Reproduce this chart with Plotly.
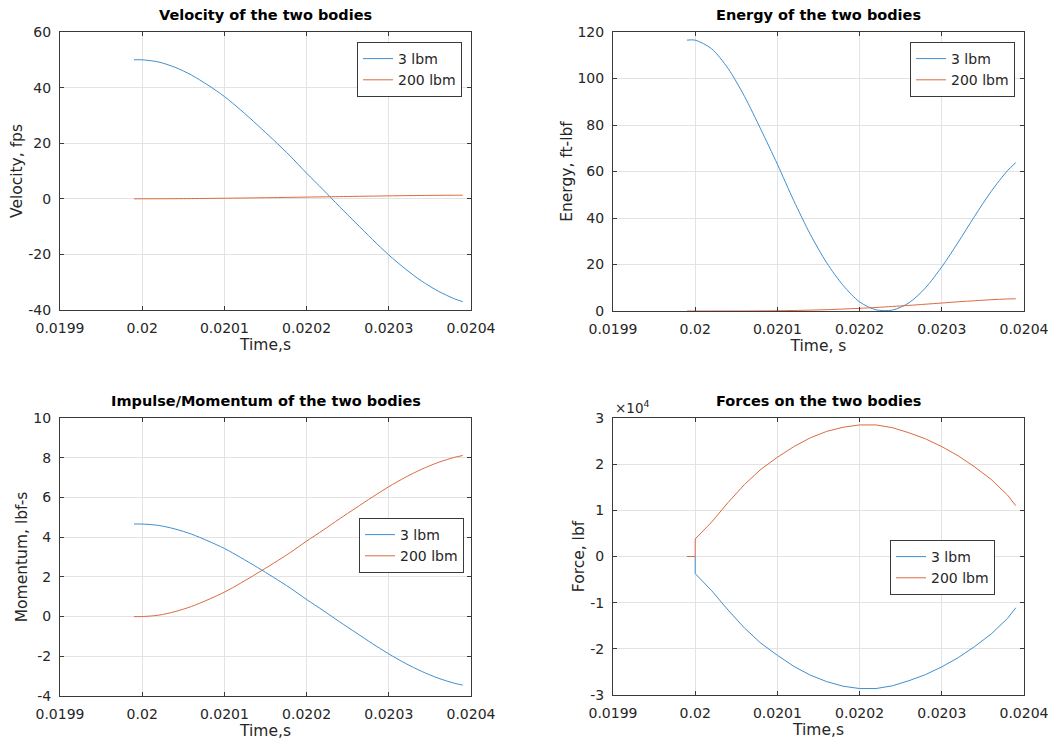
import plotly.graph_objects as go

# ---------------- data ----------------
time = [0.01999, 0.02000, 0.02002, 0.02004, 0.02006, 0.02008, 0.02010, 0.02012,
        0.02014, 0.02016, 0.02018, 0.02020, 0.02022, 0.02024, 0.02026, 0.02028,
        0.02030, 0.02032, 0.02034, 0.02036, 0.02038, 0.02039]

vel_3 = [50.0, 50.0, 49.2, 47.3, 44.5, 40.9, 36.8, 31.9, 26.6, 21.1, 15.4, 9.2,
         3.3, -2.8, -8.7, -14.6, -20.2, -25.2, -29.6, -33.2, -36.0, -37.0]
vel_200 = [0.0, 0.0, 0.01, 0.04, 0.08, 0.14, 0.20, 0.27, 0.35, 0.43, 0.52, 0.61,
           0.70, 0.79, 0.88, 0.97, 1.05, 1.13, 1.19, 1.25, 1.29, 1.30]

energy_3 = [116.5, 116.5, 112.8, 104.3, 92.3, 78.0, 63.1, 47.4, 33.0, 20.7, 11.0, 3.9,
            0.5, 0.4, 3.5, 9.9, 19.0, 29.6, 40.8, 51.4, 60.4, 63.8]
energy_200 = [0.0, 0.0, 0.0, 0.01, 0.02, 0.06, 0.12, 0.23, 0.38, 0.57, 0.84, 1.16,
              1.52, 1.94, 2.41, 2.92, 3.43, 3.97, 4.40, 4.86, 5.17, 5.25]

mom_3 = [4.66, 4.66, 4.59, 4.41, 4.15, 3.81, 3.43, 2.97, 2.48, 1.97, 1.44, 0.86,
         0.31, -0.26, -0.81, -1.36, -1.88, -2.35, -2.76, -3.10, -3.36, -3.45]
mom_200 = [0.0, 0.0, 0.07, 0.25, 0.51, 0.85, 1.23, 1.69, 2.18, 2.69, 3.22, 3.80,
           4.35, 4.92, 5.47, 6.02, 6.54, 7.01, 7.42, 7.76, 8.02, 8.11]

time_force = [0.01999, 0.02000, 0.02000, 0.02002, 0.02004, 0.02006, 0.02008, 0.02010,
              0.02012, 0.02014, 0.02016, 0.02018, 0.02020, 0.02022, 0.02024, 0.02026,
              0.02028, 0.02030, 0.02032, 0.02034, 0.02036, 0.02038, 0.02039]
force_200 = [0, 0, 3800, 7460, 11700, 15600, 18900, 21500, 23800, 25700, 27100, 28000,
             28500, 28500, 27900, 26800, 25500, 23800, 21800, 19400, 16700, 13300, 11000]
force_3 = [0, 0, -3700, -7400, -11600, -15500, -18800, -21400, -23800, -25700, -27100,
           -28100, -28600, -28600, -28000, -26900, -25600, -23900, -21900, -19500,
           -16800, -13400, -11100]

series_names = ["3 lbm", "200 lbm"]
x_ticks = [0.0199, 0.0200, 0.0201, 0.0202, 0.0203, 0.0204]
x_tick_text = ["0.0199", "0.02", "0.0201", "0.0202", "0.0203", "0.0204"]

titles = ["Velocity of the two bodies", "Energy of the two bodies",
          "Impulse/Momentum of the two bodies", "Forces on the two bodies"]
x_titles = ["Time,s", "Time, s", "Time,s", "Time,s"]
y_titles = ["Velocity, fps", "Energy, ft-lbf", "Momentum, lbf-s", "Force, lbf"]

y_ranges = [[-40, 60], [0, 120], [-4, 10], [-30000, 30000]]
vel_ticks = [-40, -20, 0, 20, 40, 60]
vel_tick_text = ["-40", "-20", "0", "20", "40", "60"]
energy_ticks = [0, 20, 40, 60, 80, 100, 120]
energy_tick_text = ["0", "20", "40", "60", "80", "100", "120"]
mom_ticks = [-4, -2, 0, 2, 4, 6, 8, 10]
mom_tick_text = ["-4", "-2", "0", "2", "4", "6", "8", "10"]
force_ticks = [-30000, -20000, -10000, 0, 10000, 20000, 30000]
force_tick_text = ["-3", "-2", "-1", "0", "1", "2", "3"]
y_tick_sets = [(vel_ticks, vel_tick_text), (energy_ticks, energy_tick_text),
               (mom_ticks, mom_tick_text), (force_ticks, force_tick_text)]

# ---------------- styling ----------------
OFF = 8                      # page body margin of the browser
W, H = 1060 - OFF, 744 - OFF
BLUE = "#3f8fcf"
ORANGE = "#dc6a42"
FONT = "DejaVu Sans, Liberation Sans, Arial, sans-serif"
TXT = "#262626"
AXC = "#3a3a3a"
GRID = "#e3e3e3"


def px(xp):
    return (xp - OFF) / W


def py(yp):
    return 1 - (yp - OFF) / H


# plot-area boxes in screen pixels: (left, right, top, bottom)
boxes = [(60, 471, 32, 310), (613, 1024, 32, 311),
         (60, 471, 418, 696), (613, 1024, 418, 695)]
legend_pos = [(462, 42), (1015, 42), (464, 518), (995, 540)]

fig = go.Figure()

data = [
    (time, vel_3, time, vel_200),
    (time, energy_3, time, energy_200),
    (time, mom_3, time, mom_200),
    (time_force, force_3, time_force, force_200),
]

layout = dict(
    width=W, height=H,
    margin=dict(l=0, r=0, t=0, b=0, autoexpand=False),
    paper_bgcolor="white", plot_bgcolor="white",
    font=dict(family=FONT, size=14, color=TXT),
    showlegend=True,
)
annotations = []

for i, (tx1, y1, tx2, y2) in enumerate(data):
    k = i + 1
    xa = "x" if k == 1 else f"x{k}"
    ya = "y" if k == 1 else f"y{k}"
    lg = "legend" if k == 1 else f"legend{k}"
    if k == 4:
        ln = dict(width=1, shape="linear")
    else:
        ln = dict(width=1, shape="spline", smoothing=0.8)
    fig.add_trace(go.Scatter(x=tx1, y=y1, mode="lines", name=series_names[0],
                             line=dict(ln, color=BLUE),
                             xaxis=xa, yaxis=ya, legend=lg))
    fig.add_trace(go.Scatter(x=tx2, y=y2, mode="lines", name=series_names[1],
                             line=dict(ln, color=ORANGE),
                             xaxis=xa, yaxis=ya, legend=lg))
    l, r, t, b = boxes[i]
    xdom = [px(l), px(r)]
    ydom = [py(b), py(t)]
    common = dict(showline=True, linecolor=AXC, linewidth=1, mirror="ticks",
                  ticks="inside", ticklen=4, tickcolor=AXC, showgrid=True,
                  gridcolor=GRID, gridwidth=1, zeroline=False, automargin=False,
                  tickfont=dict(family=FONT, size=14, color=TXT))
    xaxis = dict(common, domain=xdom, range=[0.0199, 0.0204], tickvals=x_ticks,
                 ticktext=x_tick_text, anchor=ya,
                 title=dict(text=x_titles[i], font=dict(size=15.5, color=TXT), standoff=4),
                 ticklabelstandoff=5)
    tv, tt = y_tick_sets[i]
    yaxis = dict(common, domain=ydom, range=y_ranges[i], tickvals=tv, ticktext=tt,
                 anchor=xa,
                 title=dict(text=y_titles[i], font=dict(size=15.5, color=TXT), standoff=1),
                 ticklabelstandoff=5)
    layout["xaxis" if k == 1 else f"xaxis{k}"] = xaxis
    layout["yaxis" if k == 1 else f"yaxis{k}"] = yaxis

    lx, ly = legend_pos[i]
    layout[lg] = dict(x=px(lx), y=py(ly), xanchor="right", yanchor="top",
                      bgcolor="white", bordercolor=AXC, borderwidth=1,
                      font=dict(family=FONT, size=14, color=TXT),
                      itemwidth=30, tracegroupgap=0)

    annotations.append(dict(text=f"<b>{titles[i]}</b>", x=px((l + r) / 2),
                            y=py(t - 7), xref="paper", yref="paper",
                            xanchor="center", yanchor="bottom", showarrow=False,
                            font=dict(family=FONT, size=14.5, color="#000000")))

annotations.append(dict(text="×10<sup>4</sup>", x=px(613), y=py(418),
                        xref="paper", yref="paper", xanchor="left", yanchor="bottom",
                        showarrow=False, font=dict(family=FONT, size=13.5, color=TXT)))
layout["annotations"] = annotations

fig.update_layout(**layout)
fig.write_html("out.html")
